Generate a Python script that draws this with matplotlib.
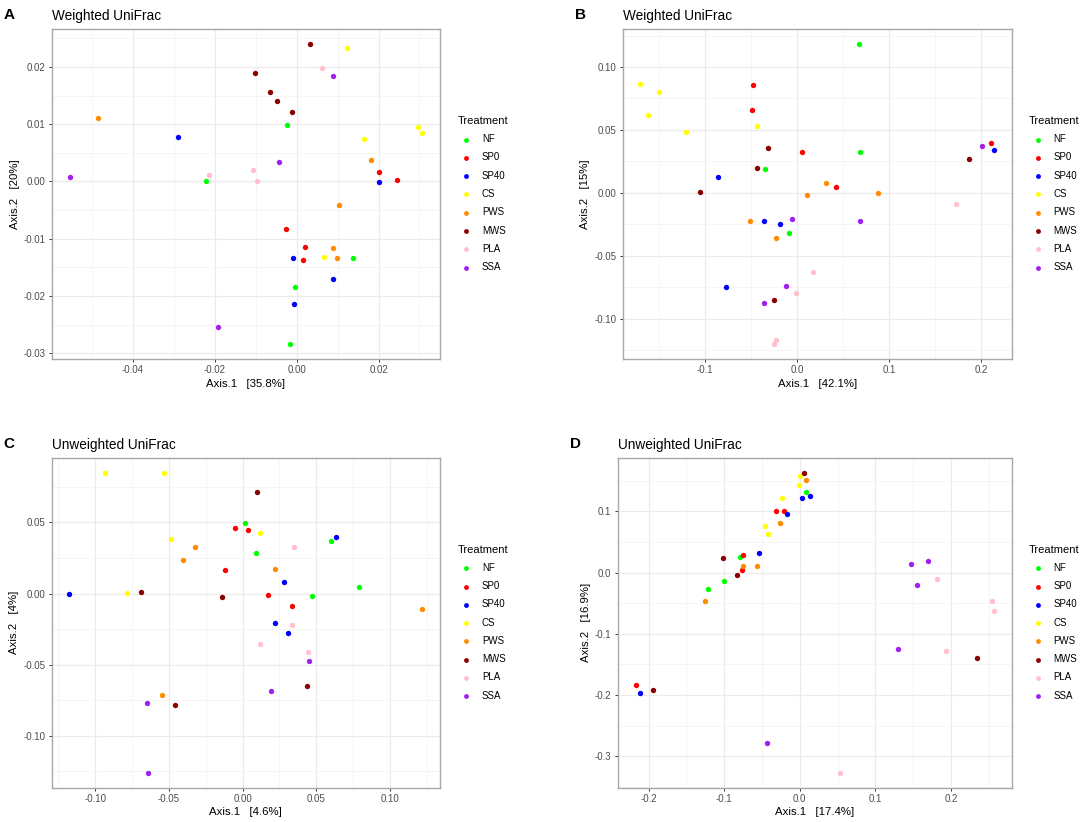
import matplotlib
matplotlib.use("Agg")
import matplotlib.pyplot as plt
from matplotlib.ticker import FixedLocator, MultipleLocator

plt.rcParams['font.family'] = ['Liberation Sans', 'DejaVu Sans']
plt.rcParams['axes.unicode_minus'] = False

TREATMENTS = ["NF", "SP0", "SP40", "CS", "PWS", "MWS", "PLA", "SSA"]
COLOURS = ["#00FF00", "#FF0000", "#0000FF", "#FFFF00", "#FF8C00", "#8B0000", "#FFC0CB", "#A020F0"]

# panel A - weighted UniFrac
A_X = [-0.0023, -0.0220, 0.0137, -0.0003, -0.0015,
       0.0200, 0.0245, -0.0026, 0.0021, 0.0015,
       -0.0289, 0.0202, -0.0009, 0.0090, -0.0006,
       0.0123, 0.0164, 0.0296, 0.0307, 0.0068,
       -0.0485, 0.0181, 0.0103, 0.0088, 0.0099,
       0.0033, -0.0101, -0.0065, -0.0047, -0.0011,
       0.0063, -0.0214, -0.0107, -0.0097,
       0.0090, -0.0042, -0.0554, -0.0193]
A_Y = [0.0099, 0.0000, -0.0134, -0.0184, -0.0284,
       0.0016, 0.0002, -0.0083, -0.0115, -0.0137,
       0.0077, -0.0001, -0.0133, -0.0170, -0.0215,
       0.0233, 0.0074, 0.0095, 0.0084, -0.0132,
       0.0110, 0.0038, -0.0041, -0.0117, -0.0133,
       0.0240, 0.0189, 0.0156, 0.0141, 0.0121,
       0.0198, 0.0011, 0.0020, 0.0001,
       0.0184, 0.0034, 0.0008, -0.0254]
A_GROUP = ["NF"] * 5 + ["SP0"] * 5 + ["SP40"] * 5 + ["CS"] * 5 + ["PWS"] * 5 + ["MWS"] * 5 + ["PLA"] * 4 + ["SSA"] * 4

# panel B - weighted UniFrac
B_X = [0.0674, 0.0681, -0.0345, -0.0084,
       -0.0475, -0.0493, 0.0058, 0.0427, 0.2109,
       -0.0859, -0.0359, -0.0182, -0.0772, 0.2141,
       -0.1700, -0.1497, -0.1613, -0.1200, -0.0435,
       0.0311, 0.0109, 0.0884, -0.0511, -0.0232,
       -0.0312, -0.0432, -0.1054, -0.0247, 0.1873,
       0.0174, -0.0008, -0.0222, -0.0247, 0.1724,
       -0.0054, 0.0685, -0.0113, -0.0352, 0.2014]
B_Y = [0.1183, 0.0325, 0.0188, -0.0317,
       0.0855, 0.0662, 0.0323, 0.0048, 0.0400,
       0.0125, -0.0227, -0.0246, -0.0751, 0.0341,
       0.0865, 0.0805, 0.0617, 0.0482, 0.0532,
       0.0077, -0.0013, -0.0002, -0.0222, -0.0357,
       0.0355, 0.0196, 0.0006, -0.0854, 0.0270,
       -0.0632, -0.0798, -0.1169, -0.1201, -0.0090,
       -0.0211, -0.0227, -0.0743, -0.0878, 0.0371]
B_GROUP = ["NF"] * 4 + ["SP0"] * 5 + ["SP40"] * 5 + ["CS"] * 5 + ["PWS"] * 5 + ["MWS"] * 5 + ["PLA"] * 5 + ["SSA"] * 5

# panel C - unweighted UniFrac
C_X = [0.0018, 0.0088, 0.0597, 0.0793, 0.0468,
       -0.0054, 0.0034, -0.0117, 0.0176, 0.0339,
       0.0633, 0.0281, -0.1175, 0.0220, 0.0308,
       -0.0931, -0.0531, -0.0483, 0.0120, -0.0782,
       -0.0321, -0.0407, 0.0220, -0.0549, 0.1220,
       0.0098, -0.0687, -0.0138, 0.0434, -0.0461,
       0.0348, 0.0339, 0.0118, 0.0447,
       0.0454, 0.0190, -0.0646, -0.0639]
C_Y = [0.0494, 0.0285, 0.0370, 0.0049, -0.0016,
       0.0459, 0.0445, 0.0164, -0.0009, -0.0087,
       0.0400, 0.0080, -0.0002, -0.0206, -0.0274,
       0.0849, 0.0849, 0.0381, 0.0423, 0.0005,
       0.0330, 0.0236, 0.0171, -0.0716, -0.0112,
       0.0711, 0.0014, -0.0021, -0.0650, -0.0781,
       0.0328, -0.0218, -0.0353, -0.0414,
       -0.0473, -0.0688, -0.0770, -0.1259]
C_GROUP = ["NF"] * 5 + ["SP0"] * 5 + ["SP40"] * 5 + ["CS"] * 5 + ["PWS"] * 5 + ["MWS"] * 5 + ["PLA"] * 4 + ["SSA"] * 4

# panel D - unweighted UniFrac
D_X = [0.0079, -0.0793, -0.1004, -0.1211,
       -0.0313, -0.0207, -0.0749, -0.0758, -0.2172,
       0.0031, 0.0141, -0.0167, -0.0542, -0.2115,
       0.0009, -0.0009, -0.0233, -0.0463, -0.0423,
       0.0084, -0.0260, -0.0753, -0.0568, -0.1251,
       0.0062, -0.1013, -0.0828, -0.1947, 0.2352,
       0.1811, 0.1934, 0.0537, 0.2542, 0.2568,
       0.1467, 0.1692, 0.1551, 0.1295, -0.0436]
D_Y = [0.1315, 0.0261, -0.0130, -0.0272,
       0.1011, 0.1000, 0.0293, 0.0049, -0.1837,
       0.1223, 0.1250, 0.0957, 0.0321, -0.1973,
       0.1571, 0.1435, 0.1217, 0.0755, 0.0636,
       0.1511, 0.0804, 0.0114, 0.0103, -0.0462,
       0.1630, 0.0239, -0.0043, -0.1913, -0.1402,
       -0.0098, -0.1277, -0.3266, -0.0462, -0.0625,
       0.0141, 0.0196, -0.0196, -0.1255, -0.2777]
D_GROUP = ["NF"] * 4 + ["SP0"] * 5 + ["SP40"] * 5 + ["CS"] * 5 + ["PWS"] * 5 + ["MWS"] * 5 + ["PLA"] * 5 + ["SSA"] * 5

A_XTICKS = ["-0.04", "-0.02", "0.00", "0.02"]
A_YTICKS = ["-0.03", "-0.02", "-0.01", "0.00", "0.01", "0.02"]
B_XTICKS = ["-0.1", "0.0", "0.1", "0.2"]
B_YTICKS = ["-0.10", "-0.05", "0.00", "0.05", "0.10"]
C_XTICKS = ["-0.10", "-0.05", "0.00", "0.05", "0.10"]
C_YTICKS = ["-0.10", "-0.05", "0.00", "0.05"]
D_XTICKS = ["-0.2", "-0.1", "0.0", "0.1", "0.2"]
D_YTICKS = ["-0.3", "-0.2", "-0.1", "0.0", "0.1"]

W, H = 1084, 822


def panel(fig, box, letter, title, xs, ys, groups, xt, yt, xlab, ylab):
    left, top, right, bottom = box
    ax = fig.add_axes([left / W, 1 - bottom / H, (right - left) / W, (bottom - top) / H])
    for name, col in zip(TREATMENTS, COLOURS):
        px = [x for x, g in zip(xs, groups) if g == name]
        py = [y for y, g in zip(ys, groups) if g == name]
        ax.scatter(px, py, s=15, color=col, linewidths=0, label=name, zorder=3)
    ax.margins(0.05)

    xv = [float(t) for t in xt]
    yv = [float(t) for t in yt]
    ax.xaxis.set_major_locator(FixedLocator(xv))
    ax.yaxis.set_major_locator(FixedLocator(yv))
    ax.set_xticklabels(xt)
    ax.set_yticklabels(yt)
    ax.xaxis.set_minor_locator(MultipleLocator((xv[1] - xv[0]) / 2))
    ax.yaxis.set_minor_locator(MultipleLocator((yv[1] - yv[0]) / 2))
    ax.grid(True, which='major', color='#EBEBEB', lw=0.9, zorder=0)
    ax.grid(True, which='minor', color='#F4F4F4', lw=0.6, zorder=0)
    ax.set_axisbelow(True)
    ax.tick_params(which='major', length=2.5, width=0.7, color='#333333',
                   labelsize=7, labelcolor='#4D4D4D', pad=2)
    ax.tick_params(which='minor', length=0)
    for sp in ax.spines.values():
        sp.set_color('#A8A8A8')
        sp.set_linewidth(1.0)

    ax.set_xlabel(xlab, fontsize=8.2, labelpad=2.5)
    ax.set_ylabel(ylab, fontsize=8.2, labelpad=3)
    ax.set_title(title, loc='left', fontsize=9.8, pad=6.5)
    fig.text((left - 48) / W, 1 - (top - 14) / H, letter, fontsize=11,
             fontweight='bold', ha='left', va='center')

    ax.legend(title='Treatment', loc='center left', bbox_to_anchor=(1.0, 0.5),
              frameon=False, fontsize=7, title_fontsize=8, markerscale=0.9,
              handletextpad=0.73, labelspacing=0.85, borderaxespad=1.4,
              handlelength=1.77, alignment='left')
    return ax


fig = plt.figure(figsize=(W / 100, H / 100), dpi=100)
panel(fig, (52, 29, 440, 359), "A", "Weighted UniFrac", A_X, A_Y, A_GROUP,
      A_XTICKS, A_YTICKS, "Axis.1   [35.8%]", "Axis.2   [20%]")
panel(fig, (622.7, 29, 1011.7, 359), "B", "Weighted UniFrac", B_X, B_Y, B_GROUP,
      B_XTICKS, B_YTICKS, "Axis.1   [42.1%]", "Axis.2   [15%]")
panel(fig, (51.7, 457.7, 440, 787.7), "C", "Unweighted UniFrac", C_X, C_Y, C_GROUP,
      C_XTICKS, C_YTICKS, "Axis.1   [4.6%]", "Axis.2   [4%]")
panel(fig, (617.7, 457.7, 1011.7, 787.7), "D", "Unweighted UniFrac", D_X, D_Y, D_GROUP,
      D_XTICKS, D_YTICKS, "Axis.1   [17.4%]", "Axis.2   [16.9%]")

fig.savefig("out.png", dpi=100)
